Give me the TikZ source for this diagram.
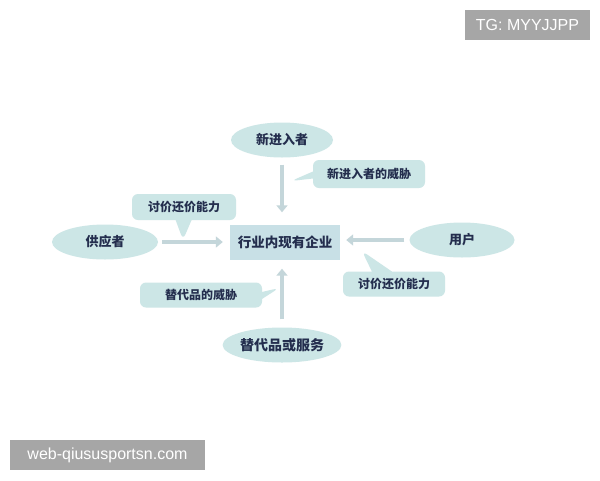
\documentclass[tikz,border=0pt]{standalone}
\usepackage{fontspec}
\setmainfont{Liberation Sans}
\newfontfamily\cjk{Noto Sans CJK SC}
\usetikzlibrary{shapes.geometric,shapes.callouts,arrows.meta}
\definecolor{bluefill}{RGB}{204,230,230}
\definecolor{boxfill}{RGB}{200,224,230}
\definecolor{arrowc}{RGB}{196,214,218}
\definecolor{txt}{RGB}{36,46,78}
\definecolor{badge}{RGB}{166,166,166}
\begin{document}
\begin{tikzpicture}[x=1pt,y=-1pt,
    blob/.style={ellipse,fill=bluefill,inner sep=0pt,minimum height=35pt,text=txt,
      font=\cjk\bfseries\fontsize{13}{13}\selectfont},
    callbox/.style={rectangle callout,rounded corners=6pt,fill=bluefill,inner sep=0pt,
      callout pointer width=16pt,minimum height=26pt,text=txt,
      font=\cjk\bfseries\fontsize{12}{12}\selectfont},
    force/.style={arrowc,line width=3.5pt,-{Triangle[length=7pt,width=11pt]}},
    badgebox/.style={fill=badge,text=white,inner sep=0pt,minimum height=30pt,
      font=\fontsize{16}{16}\selectfont}]
    \useasboundingbox (0,0) rectangle (600,480);
    \fill[white] (0,0) rectangle (600,480);
    % the five forces
    \node[fill=boxfill,minimum width=110pt,minimum height=35pt,inner sep=0pt,text=txt,
      font=\cjk\bfseries\fontsize{13.5}{14}\selectfont] (firm) at (285,242) {行业内现有企业};
    \node[blob,minimum width=102pt] (entrant) at (282,140) {新进入者};
    \node[blob,minimum width=106pt] (supplier) at (105,242) {供应者};
    \node[blob,minimum width=105pt] (user) at (462,240) {用户};
    \node[blob,minimum width=116pt,font=\cjk\bfseries\fontsize{14}{14}\selectfont] (subst) at (282,345) {替代品或服务};
    \draw[force,shorten <=7pt,shorten >=12pt] (entrant.south) -- (firm.north -| entrant.south);
    \draw[force,shorten <=4pt,shorten >=7pt] (supplier.east) -- (firm.west);
    \draw[force,shorten <=5pt,shorten >=6pt] (user.west) -- (firm.east |- user.west);
    \draw[force,shorten <=8pt,shorten >=9pt] (subst.north) -- (firm.south -| subst.north);
    % callouts
    \coordinate (p1) at (291,181);
    \coordinate (p2) at (183,240);
    \coordinate (p3) at (362,251);
    \coordinate (p4) at (279,288);
    \node[callbox,minimum width=112pt,minimum height=28pt,callout pointer width=7pt,
      callout absolute pointer={(p1)}] (threat1) at (369,174) {新进入者的威胁};
    \node[callbox,minimum width=104pt,callout absolute pointer={(p2)}] (price1) at (184,207) {讨价还价能力};
    \node[callbox,minimum width=102pt,minimum height=25pt,callout pointer width=20pt,
      callout absolute pointer={(p3)}] (price2) at (394,284) {讨价还价能力};
    \node[callbox,minimum width=122pt,minimum height=25pt,callout pointer width=7pt,
      callout absolute pointer={(p4)}] (threat2) at (201,295) {替代品的威胁};
    % watermarks
    \node[badgebox,minimum width=125pt] (tg) at (527.5,25) {TG: MYYJJPP};
    \node[badgebox,minimum width=195pt] (web) at (107.5,455) {web-qiususportsn.com};
\end{tikzpicture}
\end{document}
